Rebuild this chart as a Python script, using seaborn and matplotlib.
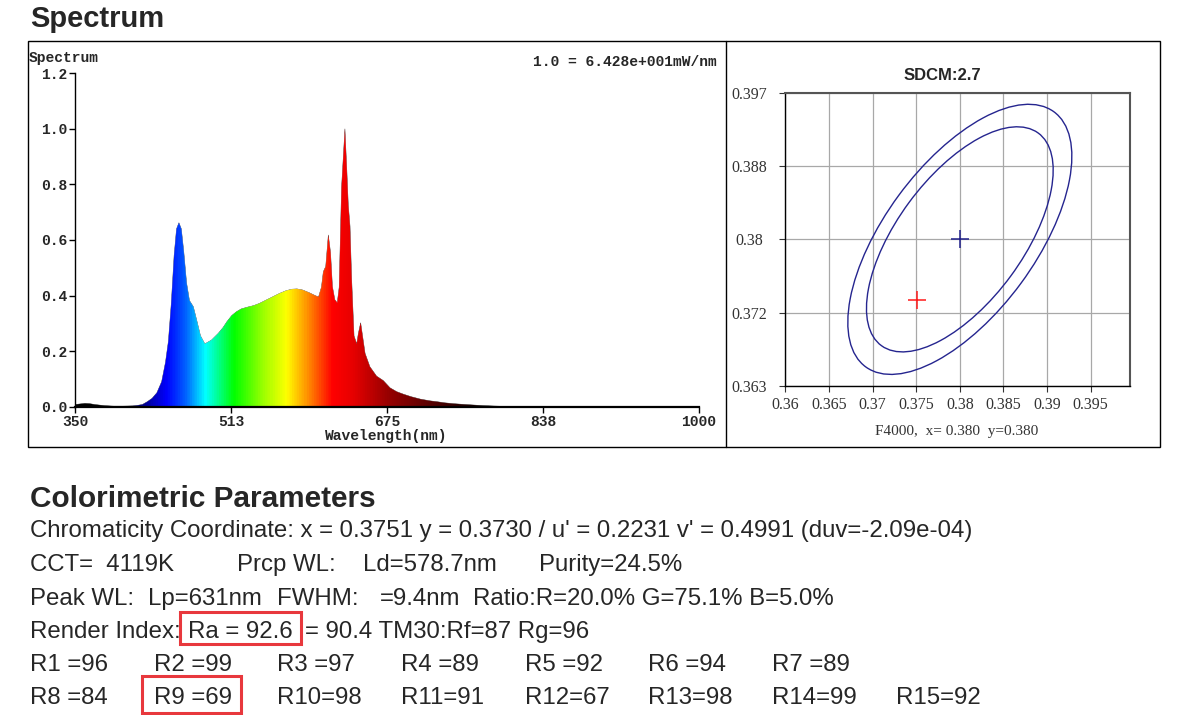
import numpy as np
import matplotlib
matplotlib.use("Agg")
import matplotlib.pyplot as plt
from matplotlib.colors import LinearSegmentedColormap
from matplotlib.patches import Ellipse, Polygon, Rectangle
import seaborn as sns

# ---- spectrum, relative (1.0 = 6.428e+001 mW/nm)
wavelength = [350, 355, 360, 365, 370, 375, 380, 390, 400, 410, 415, 420, 425, 430,
              435, 440, 444, 447, 450, 453, 455.5, 458, 460.5, 463, 466, 469, 473,
              476.5, 480.5, 485, 492, 499, 504, 508, 513, 518, 523, 529, 536, 542,
              549, 556, 563, 570, 576, 581, 587, 594, 600, 603.5, 606.5, 608.5, 611,
              613.7, 616, 618, 620.5, 623, 625, 627.5, 631, 633, 634.5, 636.3, 638,
              640.5, 643.3, 645, 647.4, 649.5, 652, 657, 664, 671, 678, 685, 692,
              700, 710, 720, 727, 735, 744, 752, 761, 775, 790, 800, 850, 900, 950,
              1000]
intensity = [0.008, 0.010, 0.012, 0.011, 0.008, 0.006, 0.004, 0.002, 0.002, 0.003,
             0.005, 0.008, 0.018, 0.030, 0.050, 0.090, 0.160, 0.235, 0.370, 0.545,
             0.640, 0.662, 0.640, 0.560, 0.445, 0.382, 0.360, 0.312, 0.255, 0.226,
             0.240, 0.264, 0.285, 0.306, 0.328, 0.342, 0.352, 0.358, 0.364, 0.372,
             0.384, 0.396, 0.408, 0.418, 0.423, 0.424, 0.420, 0.410, 0.400, 0.395,
             0.430, 0.486, 0.505, 0.618, 0.555, 0.432, 0.385, 0.374, 0.430, 0.790,
             1.000, 0.850, 0.726, 0.650, 0.460, 0.255, 0.226, 0.264, 0.302, 0.252,
             0.192, 0.144, 0.110, 0.094, 0.068, 0.054, 0.045, 0.036, 0.027, 0.021,
             0.018, 0.014, 0.011, 0.009, 0.007, 0.004, 0.002, 0.001, 0.001, 0.001,
             0.001, 0.001]

spec_xticks = [350, 512.5, 675, 837.5, 1000]
spec_xticklabels = ["350", "513", "675", "838", "1000"]
spec_yticks = [0.0, 0.2, 0.4, 0.6, 0.8, 1.0, 1.2]

# colour of the fill along the wavelength axis
grad_wl = [350, 380, 420, 445, 465, 485, 515, 545, 570, 590, 618, 640, 675, 720, 780, 1000]
grad_colors = ["#000000", "#000000", "#00008c", "#0000ff", "#0066ff", "#00ffff",
               "#00ff00", "#99ff00", "#ffff00", "#ff9900", "#ff0000", "#e60000",
               "#990000", "#590000", "#000000", "#000000"]

# ---- chromaticity (SDCM) panel
target_xy = [0.380, 0.380]
measured_xy = [0.3751, 0.3730]
ellipse_a = [0.01525, 0.0183]
ellipse_b = [0.00722, 0.00866]
ellipse_angle = 54
cie_xticks = [0.36, 0.365, 0.37, 0.375, 0.38, 0.385, 0.39, 0.395]
cie_xticklabels = ["0.36", "0.365", "0.37", "0.375", "0.38", "0.385", "0.39", "0.395"]
cie_yticks = [0.363, 0.3715, 0.38, 0.3885, 0.397]
cie_yticklabels = ["0.363", "0.372", "0.38", "0.388", "0.397"]

# ---- colorimetric parameters text
line1 = "Chromaticity Coordinate: x = 0.3751 y = 0.3730 / u' = 0.2231 v' = 0.4991 (duv=-2.09e-04)"
line2 = ["CCT=  4119K", "Prcp WL:", "Ld=578.7nm", "Purity=24.5%"]
line3 = ["Peak WL:", "Lp=631nm", "FWHM:", "=9.4nm", "Ratio:R=20.0% G=75.1% B=5.0%"]
line4 = ["Render Index:", "Ra = 92.6", "= 90.4 TM30:Rf=87 Rg=96"]
r_values = [96, 99, 97, 89, 92, 94, 89, 84, 69, 98, 91, 67, 98, 99, 92]

sns.set_style("white")
plt.rcParams["font.family"] = ["Liberation Sans", "DejaVu Sans"]

W, H = 1201, 715
fig = plt.figure(figsize=(W / 100, H / 100), dpi=100)

# background axes in pixel coordinates for frames and text
bg = fig.add_axes([0, 0, 1, 1])
bg.set_xlim(0, W)
bg.set_ylim(H, 0)
bg.axis("off")

bg.text(30, 27, "Spectrum", fontsize=21, fontweight="bold", va="baseline")
bg.add_patch(Rectangle((28, 41), 1132, 406, fill=False, ec="black", lw=1))
bg.plot([726, 726], [41, 447], color="black", lw=1)

mono = dict(family="Liberation Mono", fontweight="bold", fontsize=10.5)
bg.text(29, 62, "Spectrum", va="baseline", **mono)
bg.text(533, 66, "1.0 = 6.428e+001mW/nm", va="baseline", **mono)
bg.text(386, 440, "Wavelength(nm)", ha="center", va="baseline", **mono)

body = 17.3
bg.text(30, 507, "Colorimetric Parameters", fontsize=21.4, fontweight="bold", va="baseline")
bg.text(30, 537, line1, fontsize=body, va="baseline")
for xp, s in zip([30, 237, 363, 539], line2):
    bg.text(xp, 571, s, fontsize=body, va="baseline")
for xp, s in zip([30, 148, 277, 380, 473], line3):
    bg.text(xp, 605, s, fontsize=body, va="baseline")
for xp, s in zip([30, 188, 305], line4):
    bg.text(xp, 638, s, fontsize=body, va="baseline")
for i, v in enumerate(r_values):
    name = f"R{i + 1} =" if i + 1 < 10 else f"R{i + 1}="
    row, col = (0, i) if i < 7 else (1, i - 7)
    bg.text(30 + col * 123.7, 671 + row * 33.5, f"{name}{v}", fontsize=body, va="baseline")

bg.add_patch(Rectangle((179.5, 612), 121.5, 32, fill=False, ec="#e8383d", lw=2.2))
bg.add_patch(Rectangle((142, 675.5), 99, 37.5, fill=False, ec="#e8383d", lw=2.2))

# ---- spectrum axes
ax = fig.add_axes([75.3 / W, 1 - 406.7 / H, 623.7 / W, 333.4 / H])
ax.set_facecolor("none")
sns.lineplot(x=wavelength, y=intensity, ax=ax, color="#202020", lw=0.3, zorder=1)

cmap = LinearSegmentedColormap.from_list(
    "spec", [((w - 350) / 650, c) for w, c in zip(grad_wl, grad_colors)])
grad = np.linspace(0, 1, 1300)[None, :]
im = ax.imshow(grad, cmap=cmap, extent=[350, 1000, 0, 1.2], aspect="auto",
               origin="lower", zorder=2)
outline = Polygon(np.column_stack([[wavelength[0]] + wavelength + [wavelength[-1]],
                                   [0] + intensity + [0]]),
                  closed=True, fc="none", ec="none")
ax.add_patch(outline)
im.set_clip_path(outline)

ax.set_xlim(350, 1000)
ax.set_ylim(0, 1.2)
ax.set_xticks(spec_xticks)
ax.set_xticklabels(spec_xticklabels)
ax.set_yticks(spec_yticks)
ax.set_yticklabels([f"{t:.1f}" for t in spec_yticks])
for lab in ax.get_xticklabels() + ax.get_yticklabels():
    lab.set_fontfamily("Liberation Mono")
    lab.set_fontweight("bold")
    lab.set_fontsize(10.5)
ax.tick_params(axis="both", direction="out", length=4, width=1, color="black", pad=2,
               bottom=True, left=True)
ax.spines["top"].set_visible(False)
ax.spines["right"].set_visible(False)
ax.spines["left"].set_linewidth(1)
ax.spines["bottom"].set_linewidth(1.6)
ax.spines["left"].set_color("black")
ax.spines["bottom"].set_color("black")
ax.set_xlabel("")
ax.set_ylabel("")

# ---- chromaticity axes
cx = fig.add_axes([785.3 / W, 1 - 386 / H, 344.7 / W, 293.3 / H])
cx.set_facecolor("white")
for a, b in zip(ellipse_a, ellipse_b):
    cx.add_patch(Ellipse(target_xy, 2 * a, 2 * b, angle=ellipse_angle,
                         fill=False, ec="#25258f", lw=1, zorder=3))
sns.scatterplot(x=[target_xy[0]], y=[target_xy[1]], marker="+", s=180,
                color="#20208a", linewidth=1.1, ax=cx, zorder=4)
sns.scatterplot(x=[measured_xy[0]], y=[measured_xy[1]], marker="+", s=180,
                color="#ff1a1a", linewidth=1.1, ax=cx, zorder=4)

cx.set_xlim(0.36, 0.3995)
cx.set_ylim(0.363, 0.397)
cx.set_xticks(cie_xticks)
cx.set_xticklabels(cie_xticklabels)
cx.set_yticks(cie_yticks)
cx.set_yticklabels(cie_yticklabels)
cx.grid(True, color="#a8a8a8", lw=0.9)
cx.set_axisbelow(True)
for lab in cx.get_xticklabels() + cx.get_yticklabels():
    lab.set_fontfamily("Liberation Serif")
    lab.set_fontsize(11.5)
    lab.set_color("#333333")
for lab in cx.get_yticklabels():
    lab.set_horizontalalignment("center")
cx.tick_params(axis="both", direction="out", length=4, width=0.8, color="#333333",
               pad=4, bottom=True, left=True)
cx.tick_params(axis="y", pad=22)
for side in ["left", "bottom"]:
    cx.spines[side].set_color("black")
    cx.spines[side].set_linewidth(1)
for side in ["top", "right"]:
    cx.spines[side].set_color("#555555")
    cx.spines[side].set_linewidth(1.5)
cx.set_xlabel("")
cx.set_ylabel("")

bg.text(942, 80, "SDCM:2.7", ha="center", va="baseline", fontsize=12, fontweight="bold")
bg.text(957, 435, "F4000,  x= 0.380  y=0.380", ha="center", va="baseline",
        fontsize=11, family="Liberation Serif", color="#333333")

fig.savefig("out.png", dpi=100)
plt.close(fig)
